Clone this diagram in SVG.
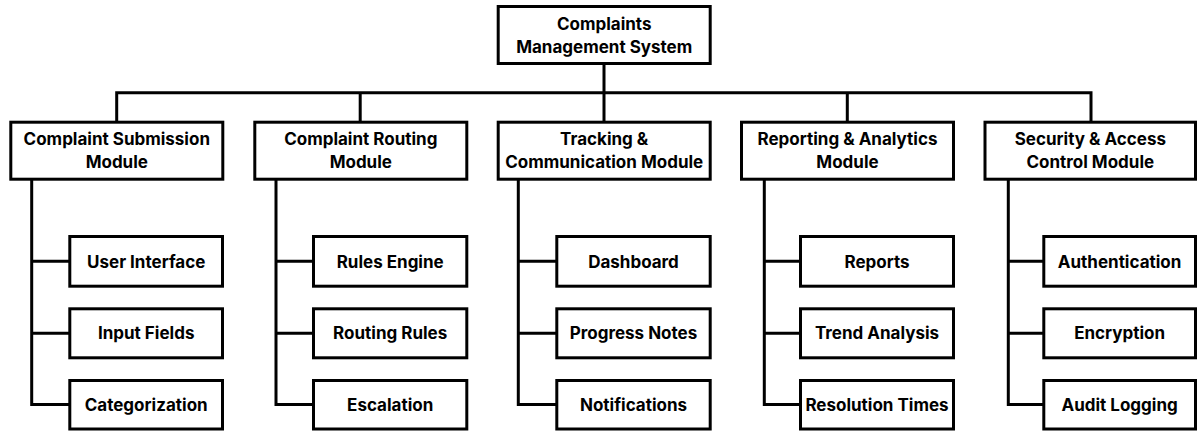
<svg xmlns="http://www.w3.org/2000/svg" width="1197" height="431" viewBox="0 0 1197 431">
  <style>
    .box { fill: #ffffff; stroke: #000000; stroke-width: 3; }
    .link { fill: none; stroke: #000000; stroke-width: 3; stroke-linejoin: miter; stroke-linecap: square; }
    text { font-family: "Inter", "Liberation Sans", sans-serif; font-weight: 700; font-size: 17px; fill: #000000; text-anchor: middle; }
  </style>
  <rect width="1197" height="431" fill="#ffffff"/>

  <!-- connectors -->
  <g id="connectors" class="link">
    <!-- root to modules -->
    <path d="M604 64 V121 M116.7 121 V92.7 H1091 V121 M360.2 92.7 V121 M847.3 92.7 V121"/>
    <!-- module to sub-items -->
    <path d="M31.7 181 V404.5 H68 M31.7 261.3 H68 M31.7 333.3 H68"/>
    <path d="M276 181 V404.5 H312 M276 261.3 H312 M276 333.3 H312"/>
    <path d="M518.3 181 V404.5 H555 M518.3 261.3 H555 M518.3 333.3 H555"/>
    <path d="M764.3 181 V404.5 H799 M764.3 261.3 H799 M764.3 333.3 H799"/>
    <path d="M1008.3 181 V404.5 H1042 M1008.3 261.3 H1042 M1008.3 333.3 H1042"/>
  </g>

  <!-- root -->
  <g id="root">
    <rect class="box" x="498.2" y="6.5" width="212" height="57"/>
    <text x="604.2" y="30">Complaints</text>
    <text x="604.2" y="53.3">Management System</text>
  </g>

  <!-- modules -->
  <g id="submission">
    <rect class="box" x="10.8" y="122.2" width="212" height="57"/>
    <text x="116.8" y="145">Complaint Submission</text>
    <text x="116.8" y="168.3">Module</text>
  </g>
  <g id="routing">
    <rect class="box" x="254.8" y="122.2" width="212" height="57"/>
    <text x="360.8" y="145">Complaint Routing</text>
    <text x="360.8" y="168.3">Module</text>
  </g>
  <g id="tracking">
    <rect class="box" x="498.2" y="122.2" width="212" height="57"/>
    <text x="604.2" y="145">Tracking &amp;</text>
    <text x="604.2" y="168.3">Communication Module</text>
  </g>
  <g id="reporting">
    <rect class="box" x="741.5" y="122.2" width="212" height="57"/>
    <text x="847.5" y="145">Reporting &amp; Analytics</text>
    <text x="847.5" y="168.3">Module</text>
  </g>
  <g id="security">
    <rect class="box" x="985" y="122.2" width="210.5" height="57"/>
    <text x="1090.3" y="145">Security &amp; Access</text>
    <text x="1090.3" y="168.3">Control Module</text>
  </g>

  <!-- submission items -->
  <g id="user-interface">
    <rect class="box" x="69.8" y="236.5" width="152.7" height="49.7"/>
    <text x="146.2" y="267.7">User Interface</text>
  </g>
  <g id="input-fields">
    <rect class="box" x="69.8" y="308.8" width="152.7" height="49"/>
    <text x="146.2" y="338.8">Input Fields</text>
  </g>
  <g id="categorization">
    <rect class="box" x="69.8" y="380.5" width="152.7" height="48.5"/>
    <text x="146.2" y="410.7">Categorization</text>
  </g>

  <!-- routing items -->
  <g id="rules-engine">
    <rect class="box" x="313.5" y="236.5" width="153.3" height="49.7"/>
    <text x="390.2" y="267.7">Rules Engine</text>
  </g>
  <g id="routing-rules">
    <rect class="box" x="313.5" y="308.8" width="153.3" height="49"/>
    <text x="390.2" y="338.8">Routing Rules</text>
  </g>
  <g id="escalation">
    <rect class="box" x="313.5" y="380.5" width="153.3" height="48.5"/>
    <text x="390.2" y="410.7">Escalation</text>
  </g>

  <!-- tracking items -->
  <g id="dashboard">
    <rect class="box" x="556.8" y="236.5" width="153.4" height="49.7"/>
    <text x="633.5" y="267.7">Dashboard</text>
  </g>
  <g id="progress-notes">
    <rect class="box" x="556.8" y="308.8" width="153.4" height="49"/>
    <text x="633.5" y="338.8">Progress Notes</text>
  </g>
  <g id="notifications">
    <rect class="box" x="556.8" y="380.5" width="153.4" height="48.5"/>
    <text x="633.5" y="410.7">Notifications</text>
  </g>

  <!-- reporting items -->
  <g id="reports">
    <rect class="box" x="800.5" y="236.5" width="153" height="49.7"/>
    <text x="877" y="267.7">Reports</text>
  </g>
  <g id="trend-analysis">
    <rect class="box" x="800.5" y="308.8" width="153" height="49"/>
    <text x="877" y="338.8">Trend Analysis</text>
  </g>
  <g id="resolution-times">
    <rect class="box" x="800.5" y="380.5" width="153" height="48.5"/>
    <text x="877" y="410.7">Resolution Times</text>
  </g>

  <!-- security items -->
  <g id="authentication">
    <rect class="box" x="1043.8" y="236.5" width="151.7" height="49.7"/>
    <text x="1119.6" y="267.7">Authentication</text>
  </g>
  <g id="encryption">
    <rect class="box" x="1043.8" y="308.8" width="151.7" height="49"/>
    <text x="1119.6" y="338.8">Encryption</text>
  </g>
  <g id="audit-logging">
    <rect class="box" x="1043.8" y="380.5" width="151.7" height="48.5"/>
    <text x="1119.6" y="410.7">Audit Logging</text>
  </g>
</svg>
